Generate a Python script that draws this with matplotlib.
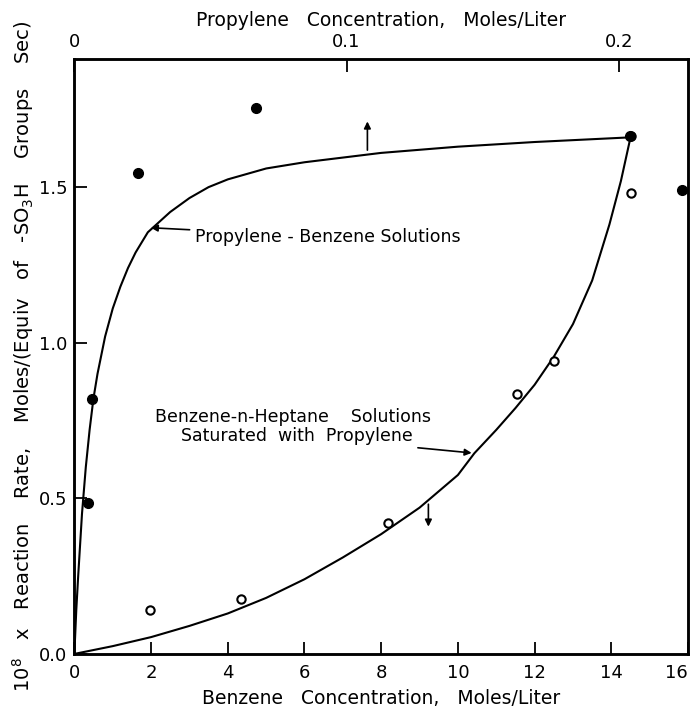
import numpy as np
import matplotlib.pyplot as plt

# propylene-benzene solutions (top axis, moles/liter of propylene)
prop_pts_x = [0.0050, 0.0063, 0.0233, 0.0666, 0.2043, 0.2233]
prop_pts_y = [0.484, 0.82, 1.545, 1.755, 1.665, 1.49]
prop_curve_x = [0.0, 0.0007, 0.0014, 0.0028, 0.0042, 0.0056, 0.0070, 0.0085,
                0.0113, 0.0141, 0.0169, 0.0197, 0.0225, 0.0270, 0.0352,
                0.0423, 0.0493, 0.0564, 0.0705, 0.0846, 0.1127, 0.1409,
                0.1691, 0.2043]
prop_curve_y = [0.0, 0.14, 0.25, 0.45, 0.60, 0.72, 0.82, 0.90, 1.02, 1.11,
                1.18, 1.24, 1.29, 1.355, 1.42, 1.465, 1.50, 1.525, 1.56,
                1.58, 1.61, 1.63, 1.645, 1.66]

# benzene-n-heptane solutions (bottom axis, moles/liter of benzene)
benz_pts_x = [1.98, 4.34, 8.19, 11.55, 12.5, 14.5, 14.5]
benz_pts_y = [0.14, 0.175, 0.42, 0.835, 0.94, 1.48, 1.665]
benz_curve_x = [0, 1, 2, 3, 4, 5, 6, 7, 8, 9, 10, 10.43, 11, 11.5, 12, 12.5,
                13, 13.5, 13.95, 14.25, 14.5]
benz_curve_y = [0, 0.025, 0.054, 0.09, 0.13, 0.18, 0.24, 0.31, 0.385, 0.47,
                0.575, 0.645, 0.72, 0.79, 0.865, 0.955, 1.06, 1.20, 1.38,
                1.52, 1.66]

xticks = [0, 2, 4, 6, 8, 10, 12, 14, 16]
yticks = [0.0, 0.5, 1.0, 1.5]
top_ticks = [0, 0.1, 0.2]
top_labels = ["0", "0.1", "0.2"]

fig = plt.figure(figsize=(6.95, 7.10), dpi=100)
ax = fig.add_axes([0.107, 0.079, 0.883, 0.838])
ax2 = ax.twiny()

ax.set_xlim(0, 16)
ax.set_ylim(0, 1.912)
ax2.set_xlim(0, 0.2255)

ax.plot(benz_curve_x, benz_curve_y, color="black", lw=1.5)
ax.plot(benz_pts_x, benz_pts_y, "o", mfc="white", mec="black", mew=1.5, ms=6)
ax2.plot(prop_curve_x, prop_curve_y, color="black", lw=1.5)
ax2.plot(prop_pts_x, prop_pts_y, "o", color="black", ms=7)

ax.set_xticks(xticks)
ax.set_xticklabels([str(t) for t in xticks])
ax.set_yticks(yticks)
ax.set_yticklabels([f"{t:.1f}" for t in yticks])
ax2.set_xticks(top_ticks)
ax2.set_xticklabels(top_labels)
ax.get_xticklabels()[-1].set_ha("right")

for a in (ax, ax2):
    a.tick_params(direction="in", length=9, width=1.3, labelsize=13)
    for s in a.spines.values():
        s.set_linewidth(1.8)
ax.tick_params(axis="x", pad=7)
ax.tick_params(axis="y", pad=5)
ax2.tick_params(axis="x", pad=6)

ax.set_xlabel("Benzene   Concentration,   Moles/Liter", fontsize=13.5, labelpad=5)
ax2.set_xlabel("Propylene   Concentration,   Moles/Liter", fontsize=13.5, labelpad=5)
ax.set_ylabel(r"10$^8$   x   Reaction    Rate,    Moles/(Equiv   of   -SO$_3$H    Groups    Sec)",
              fontsize=14, labelpad=2)

arrow = dict(arrowstyle="-|>", color="black", lw=1.2, mutation_scale=10)
ax.annotate("Propylene - Benzene Solutions", xy=(1.92, 1.37), xytext=(3.15, 1.34),
            fontsize=12.5, va="center", ha="left", arrowprops=arrow)
ax.text(2.1, 0.76, "Benzene-n-Heptane    Solutions", fontsize=12.5, ha="left", va="center")
ax.annotate("Saturated  with  Propylene", xy=(10.43, 0.645), xytext=(2.77, 0.70),
            fontsize=12.5, ha="left", va="center", arrowprops=arrow)
ax.annotate("", xy=(7.64, 1.72), xytext=(7.64, 1.61), arrowprops=arrow)
ax.annotate("", xy=(9.23, 0.40), xytext=(9.23, 0.49), arrowprops=arrow)

fig.savefig("out.png", dpi=100)
